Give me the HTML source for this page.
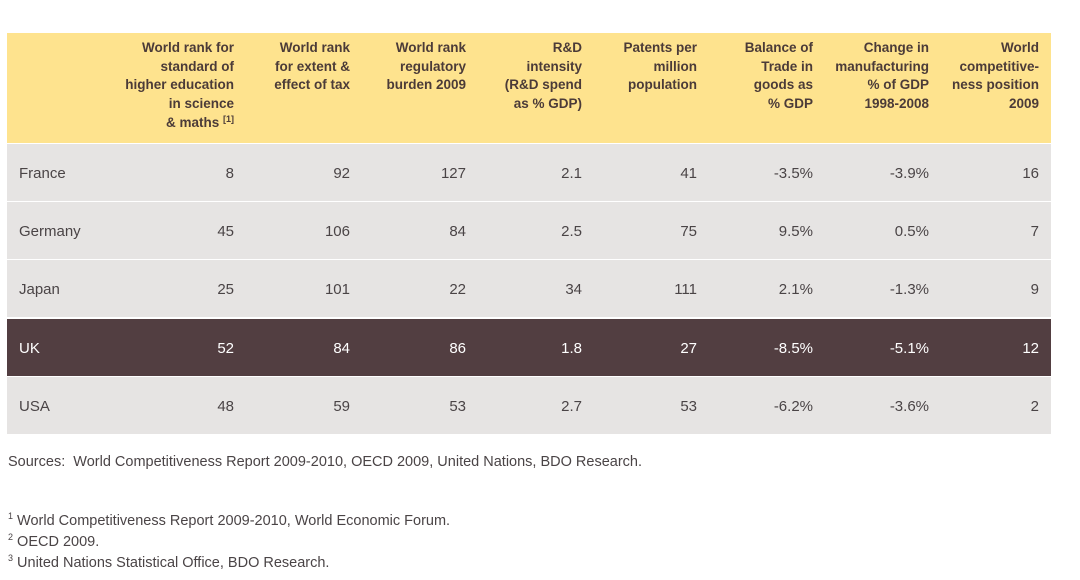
<!DOCTYPE html>
<html><head><meta charset="utf-8">
<style>
body{margin:0;width:1080px;height:580px;background:#fff;position:relative;overflow:hidden;font-family:"Liberation Sans",sans-serif;}
.hdr{position:absolute;left:7px;top:33px;width:1044px;height:110px;background:#fee38e;}
.row{position:absolute;left:7px;width:1044px;height:57px;background:#e6e4e3;}
.row.uk{background:#523e41;}
.h{position:absolute;top:6px;text-align:right;font-weight:bold;font-size:13.5px;line-height:18.7px;color:#4b3b38;white-space:nowrap;}
.h sup{line-height:0;vertical-align:0;position:relative;top:-5px;}
.c{position:absolute;top:21px;text-align:right;font-size:15px;color:#4a4446;white-space:nowrap;}
.uk .c{color:#fff;}
.n{position:absolute;left:12px;top:21px;font-size:15px;color:#4a4446;}
.uk .n{color:#fff;}
.note{position:absolute;left:8px;font-size:14.5px;color:#4a4446;white-space:nowrap;}
sup{font-size:9px;}
</style></head><body>
<div class="hdr">
<div class="h" style="right:calc(1044px - 227px)">World rank for<br>standard of<br>higher education<br>in science<br>&amp; maths <sup>[1]</sup></div>
<div class="h" style="right:calc(1044px - 343px)">World rank<br>for extent &amp;<br>effect of tax</div>
<div class="h" style="right:calc(1044px - 459px)">World rank<br>regulatory<br>burden 2009</div>
<div class="h" style="right:calc(1044px - 575px)">R&amp;D<br>intensity<br>(R&amp;D spend<br>as % GDP)</div>
<div class="h" style="right:calc(1044px - 690px)">Patents per<br>million<br>population</div>
<div class="h" style="right:calc(1044px - 806px)">Balance of<br>Trade in<br>goods as<br>% GDP</div>
<div class="h" style="right:calc(1044px - 922px)">Change in<br>manufacturing<br>% of GDP<br>1998-2008</div>
<div class="h" style="right:calc(1044px - 1032px)">World<br>competitive-<br>ness position<br>2009</div>
</div>
<div id="rows"></div>
<div class="note" style="top:454px">Sources:&nbsp; World Competitiveness Report 2009-2010, OECD 2009, United Nations, BDO Research.</div>
<div class="note" style="top:511px"><sup>1</sup> World Competitiveness Report 2009-2010, World Economic Forum.</div>
<div class="note" style="top:532px"><sup>2</sup> OECD 2009.</div>
<div class="note" style="top:553px"><sup>3</sup> United Nations Statistical Office, BDO Research.</div>
<script>
const countries=["France","Germany","Japan","UK","USA"];
const education=["8","45","25","52","48"];
const tax=["92","106","101","84","59"];
const regulatory=["127","84","22","86","53"];
const rd=["2.1","2.5","34","1.8","2.7"];
const patents=["41","75","111","27","53"];
const trade=["-3.5%","9.5%","2.1%","-8.5%","-6.2%"];
const manuf=["-3.9%","0.5%","-1.3%","-5.1%","-3.6%"];
const compet=["16","7","9","12","2"];
const cols=[education,tax,regulatory,rd,patents,trade,manuf,compet];
const colNames=["education","tax","regulatory","rd","patents","trade","manufacturing","competitiveness"];
const rights=[227,343,459,575,690,806,922,1032];
const tops=[144,202,260,319,377];
const host=document.getElementById('rows');
countries.forEach((c,i)=>{
  const r=document.createElement('div');
  r.className='row'+(c==='UK'?' uk':'');
  r.style.top=tops[i]+'px';
  
  
  const n=document.createElement('div');
  n.className='n';n.textContent=c;
  
  
  r.appendChild(n);
  cols.forEach((arr,j)=>{
    const d=document.createElement('div');
    d.className='c';d.textContent=arr[i];
    d.style.right=(1044-rights[j])+'px';
    
    
    r.appendChild(d);
  });
  host.appendChild(r);
});
</script>
</body></html>
